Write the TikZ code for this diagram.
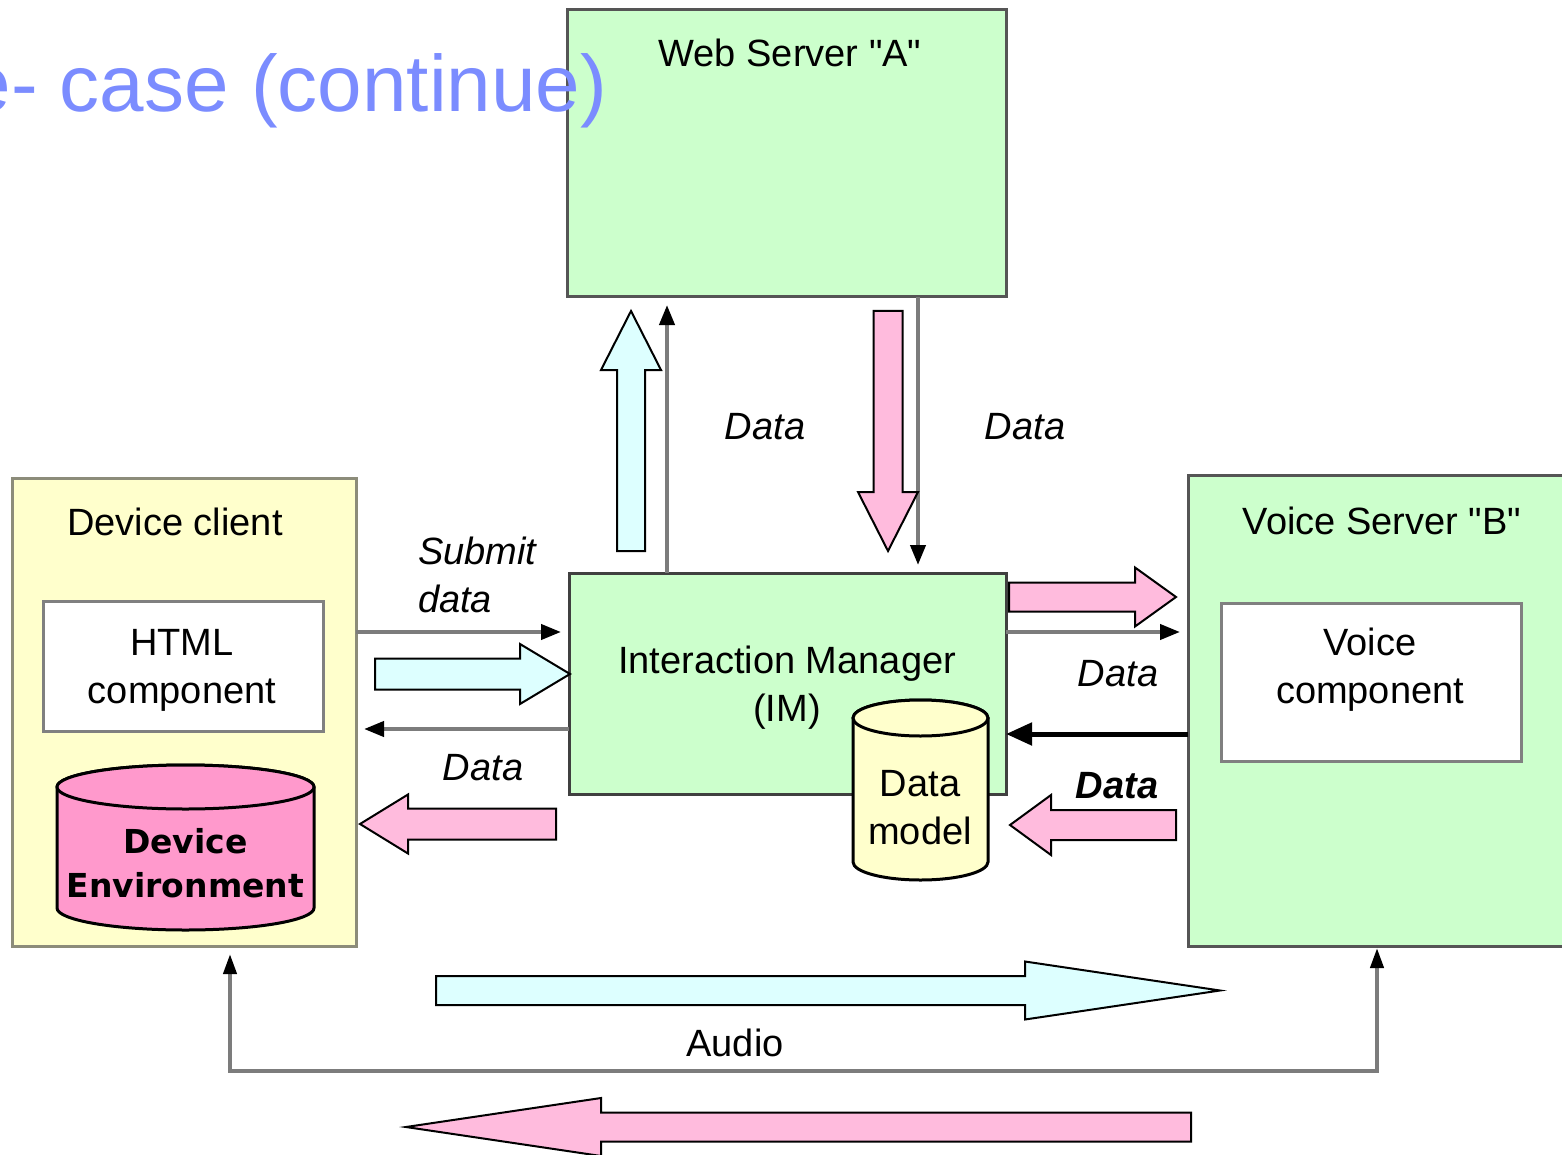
\documentclass[tikz,border=0pt]{standalone}
\usepackage{fontspec}
\setmainfont{Liberation Sans}
% same face without the TeX quote mapping, for straight double quotes
\newfontfamily\plainfont{Liberation Sans}
\newfontfamily\envfont{DejaVu Sans}
\usetikzlibrary{calc,arrows.meta}

\definecolor{boxgreen}{HTML}{CCFFCC}
\definecolor{boxyellow}{HTML}{FFFFCC}
\definecolor{flowcyan}{HTML}{DDFFFF}
\definecolor{flowpink}{HTML}{FFBBDD}
\definecolor{envpink}{HTML}{FF99CC}
\definecolor{titleblue}{HTML}{7B8CFF}
\definecolor{edgegray}{HTML}{555555}
\definecolor{clientedge}{HTML}{8C8C7A}
\definecolor{linkgray}{HTML}{7C7C7C}

% cylinder drawn around a (shape-only) node: name, x radius, y radius, fill
\newcommand\drawcyl[4]{%
  \draw[fill=#4, line width=3pt]
    ($(#1.north west)+(0,#3)$) -- ($(#1.south west)+(0,-#3)$)
    arc[start angle=180, end angle=360, x radius=#2pt, y radius=#3pt]
    -- ($(#1.north east)+(0,#3)$)
    arc[start angle=0, end angle=180, x radius=#2pt, y radius=#3pt] -- cycle;
  \draw[fill=#4, line width=3pt] ($(#1.north)+(0,#3)$) ellipse[x radius=#2pt, y radius=#3pt];
}

% wide outlined arrow: fill, tail, tip, shaft half-width, head half-width, head length
\newcommand\blockarrow[6]{%
  \coordinate (ba-t) at (#2);
  \coordinate (ba-p) at (#3);
  \coordinate (ba-h) at ($(ba-p)!#6pt!(ba-t)$);
  \draw[fill=#1, line width=2pt, line join=miter]
    ($(ba-t)!#4pt!90:(ba-p)$) -- ($(ba-h)!#4pt!90:(ba-p)$) -- ($(ba-h)!#5pt!90:(ba-p)$)
    -- (ba-p)
    -- ($(ba-h)!#5pt!-90:(ba-p)$) -- ($(ba-h)!#4pt!-90:(ba-p)$) -- ($(ba-t)!#4pt!-90:(ba-p)$)
    -- cycle;
}

\begin{document}
\begin{tikzpicture}[x=1pt, y=-1pt,
  every node/.style={inner sep=0pt, outer sep=0pt},
  panel/.style={draw=edgegray, line width=3pt, fill=#1},
  inner/.style={draw=gray, line width=3pt, fill=white},
  shapeonly/.style={draw=none},
  txt/.style={font=\fontsize{38}{48}\selectfont, align=center},
  itxt/.style={font=\fontsize{38}{48}\selectfont\itshape, align=left},
  link/.style={draw=linkgray, line width=4pt,
    -{Triangle[length=20pt, width=15pt, color=black]}, shorten >=8pt},
  strong/.style={draw=black, line width=5pt,
    -{Triangle[length=26pt, width=22pt]}},
]
\fill[white] (0,0) rectangle (1562,1155);
\useasboundingbox (0,0) rectangle (1562,1155);

% servers and client
\node[panel=boxgreen, minimum width=439pt, minimum height=287pt] (web) at (786.5,153.5) {};
\node[txt, font=\fontsize{38}{48}\plainfont, anchor=base] (weblbl) at (790,67) {Web Server "A"};

\node[draw=clientedge, line width=3pt, fill=boxyellow, minimum width=344pt, minimum height=468pt] (dev) at (184,712) {};
\node[txt, anchor=base] (devlbl) at (175,535) {Device client};

\node[panel=boxgreen, minimum width=412pt, minimum height=471pt] (voice) at (1394,710.5) {};
\node[txt, font=\fontsize{38}{48}\plainfont, anchor=base] (voicelbl) at (1382,534) {Voice Server "B"};

\node[panel=boxgreen, draw=black!75, minimum width=437pt, minimum height=221pt] (im) at (787.5,683.5) {};
\node[txt] (imlbl) at (787,687.5) {Interaction Manager\\(IM)};

% components
\node[inner, minimum width=280pt, minimum height=130pt] (html) at (183,666) {};
\node[txt] (htmllbl) at (182,670) {HTML\\component};

\node[inner, minimum width=300pt, minimum height=158pt] (vcomp) at (1371,682) {};
\node[txt] (vcomplbl) at (1370,670) {Voice\\component};

% data stores
\node[shapeonly, minimum width=257pt, minimum height=165pt] (env) at (185.5,847.5) {};
\drawcyl{env}{128.5}{22}{envpink}
\node[font=\fontsize{33}{44}\selectfont\envfont\bfseries, align=center] (envlbl) at (185.5,863) {Device\\Environment};

\node[shapeonly, minimum width=135pt, minimum height=180pt] (dm) at (920.5,790) {};
\drawcyl{dm}{67.5}{18}{boxyellow}
\node[txt] (dmlbl) at (920,808) {Data\\model};

% heading
\node[anchor=base east, text=titleblue, font=\fontsize{80}{96}\selectfont] (title) at (607,112) {e- case (continue)};

% thin connectors
\draw[link] (im.north -| 667,0) -- (web.south -| 667,0);
\draw[link] (web.south -| 918,0) -- (im.north -| 918,0);
\draw[link] (dev.east |- 0,632) -- (im.west |- 0,632);
\draw[link] (im.west |- 0,729) -- (dev.east |- 0,729);
\draw[link] (im.east |- 0,632) -- (voice.west |- 0,632);
\draw[strong] (voice.west |- 0,734) -- (im.east |- 0,734);

% audio loop
\coordinate (audioL) at (230,1071);
\coordinate (audioR) at (1377,1071);
\draw[draw=linkgray, line width=4pt,
  {Triangle[length=20pt, width=13pt, color=black]}-{Triangle[length=20pt, width=13pt, color=black]},
  shorten <=8pt, shorten >=2pt]
  (dev.south -| audioL) -- (audioL) -- (audioR) -- (voice.south -| audioR);

% flow arrows
\blockarrow{flowcyan}{631,551}{631,311}{14}{30}{59}
\blockarrow{flowpink}{888,311}{888,551}{14.5}{30}{59}
\blockarrow{flowcyan}{375,674}{570,674}{15.5}{30}{50}
\blockarrow{flowpink}{556,824}{360,824}{15.5}{29.5}{48}
\blockarrow{flowpink}{1009,597}{1176,597}{14.5}{29.5}{41}
\blockarrow{flowpink}{1176,825}{1010,825}{15}{30}{41}
\blockarrow{flowcyan}{436,990.5}{1220,990.5}{14.5}{29}{195}
\blockarrow{flowpink}{1191,1127}{406,1127}{14.5}{29}{195}

% labels
\node[itxt, anchor=base] (d1) at (765,439) {Data};
\node[itxt, anchor=base] (d2) at (1025,439) {Data};
\node[itxt, anchor=west] (submit) at (418,575) {Submit\\data};
\node[itxt, anchor=base] (d3) at (483,780) {Data};
\node[itxt, anchor=base] (d4) at (1118,686) {Data};
\node[font=\fontsize{38}{48}\selectfont\bfseries\itshape, anchor=base] (d5) at (1117,798) {Data};
\node[txt, anchor=base] (audio) at (735,1056) {Audio};
\end{tikzpicture}
\end{document}
